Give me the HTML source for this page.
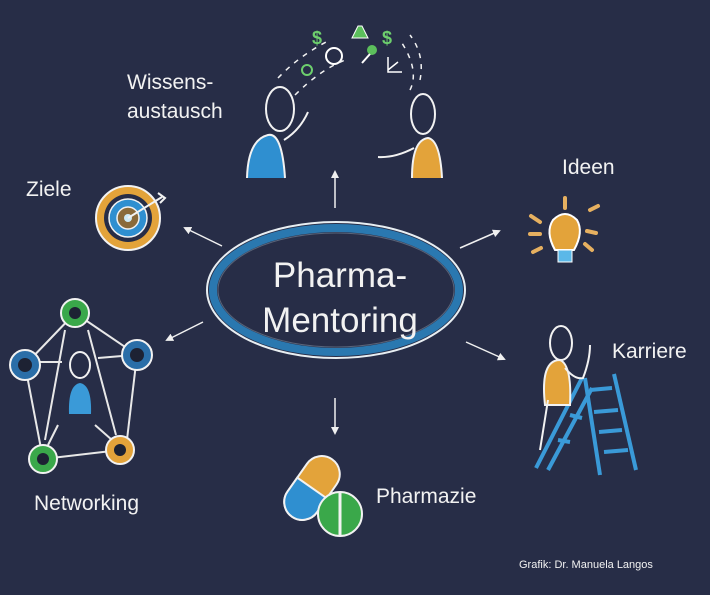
<!DOCTYPE html>
<html><head><meta charset="utf-8"><style>
html,body{margin:0;padding:0;background:#272d47;}
svg{display:block}
text{font-family:"Liberation Sans",sans-serif;fill:#f2f2f2}
</style></head><body>
<svg width="710" height="595" viewBox="0 0 710 595" xmlns="http://www.w3.org/2000/svg">
<rect width="710" height="595" fill="#272d47"/>
<defs>
<marker id="ah" markerWidth="8" markerHeight="8" refX="6" refY="4" orient="auto" markerUnits="userSpaceOnUse"><path d="M0,0 L8,4 L0,8 z" fill="#f0f0f0"/></marker>
</defs>
<!-- central ellipse -->
<ellipse cx="336" cy="290" rx="129" ry="68" fill="none" stroke="#e8eef2" stroke-width="2"/>
<ellipse cx="336" cy="290" rx="123" ry="62" fill="none" stroke="#2a78b0" stroke-width="8"/>
<ellipse cx="336" cy="290" rx="118" ry="57" fill="none" stroke="#cfe3ee" stroke-width="1" opacity="0.3"/>
<text x="340" y="287" font-size="35" text-anchor="middle">Pharma-</text>
<text x="340" y="332" font-size="35" text-anchor="middle">Mentoring</text>
<!-- arrows -->
<g stroke="#f0f0f0" stroke-width="1.5" marker-end="url(#ah)">
<line x1="335" y1="208" x2="335" y2="172"/>
<line x1="335" y1="398" x2="335" y2="433"/>
<line x1="222" y1="246" x2="185" y2="228"/>
<line x1="203" y1="322" x2="167" y2="340"/>
<line x1="460" y1="248" x2="499" y2="231"/>
<line x1="466" y1="342" x2="504" y2="359"/>
</g>
<!-- labels -->
<g font-size="21">
<text x="127" y="89">Wissens-</text>
<text x="127" y="118">austausch</text>
<text x="26" y="196">Ziele</text>
<text x="562" y="174">Ideen</text>
<text x="612" y="358">Karriere</text>
<text x="34" y="510">Networking</text>
<text x="376" y="503">Pharmazie</text>
</g>
<text x="519" y="568" font-size="11">Grafik: Dr. Manuela Langos</text>

<!-- Wissensaustausch people -->
<g fill="none" stroke="#f2f2f2" stroke-width="2">
<ellipse cx="280" cy="109" rx="14" ry="22"/>
<path d="M247,178 Q248,140 268,135 Q282,132 285,178" fill="#2f8fd0"/>
<path d="M284,140 Q300,130 308,112"/>
<ellipse cx="423" cy="114" rx="12" ry="20"/>
<path d="M412,178 Q412,140 428,138 Q440,140 442,178" fill="#e3a33a"/>
<path d="M414,148 Q395,158 378,157"/>
</g>
<g fill="#6dcf6d" font-size="18" font-weight="bold">
<text x="312" y="44" style="fill:#6dcf6d">$</text>
<text x="382" y="44" style="fill:#6dcf6d">$</text>
</g>
<path d="M352,38 L358,26 L362,26 L368,38 z" fill="#5cbf5c" stroke="#fff" stroke-width="1"/>
<circle cx="334" cy="56" r="8" fill="none" stroke="#fff" stroke-width="2"/>
<circle cx="307" cy="70" r="5" fill="none" stroke="#6dcf6d" stroke-width="2"/>
<circle cx="372" cy="50" r="5" fill="#5cbf5c"/>
<line x1="370" y1="54" x2="362" y2="63" stroke="#fff" stroke-width="2"/>
<path d="M388,57 L388,72 L402,72 M388,70 L398,62" fill="none" stroke="#fff" stroke-width="1.5"/>
<g stroke="#f2f2f2" stroke-width="1.5" stroke-dasharray="5 6" fill="none">
<path d="M278,78 Q300,55 330,40"/>
<path d="M295,95 Q320,70 345,60"/>
<path d="M410,90 Q420,70 400,40"/>
<path d="M420,80 Q425,55 410,35"/>
</g>

<!-- target -->
<circle cx="128" cy="218" r="32" fill="#e3a33a" stroke="#f2f2f2" stroke-width="2"/>
<circle cx="128" cy="218" r="24" fill="#272d47"/>
<circle cx="128" cy="218" r="19" fill="#2f8fd0" stroke="#f2f2f2" stroke-width="1.5"/>
<circle cx="128" cy="218" r="11" fill="#8a6a3a" stroke="#f2f2f2" stroke-width="1.5"/>
<circle cx="128" cy="218" r="4" fill="#cfeaf5"/>
<path d="M128,218 L162,197 M158,193 L165,198 L160,203" stroke="#f2f2f2" stroke-width="2" fill="none"/>

<!-- bulb -->
<path d="M555,250 Q545,232 553,220 Q565,208 577,220 Q584,232 574,250 z" fill="#e3a33a" stroke="#fff" stroke-width="2"/>
<rect x="558" y="250" width="14" height="12" fill="#5bb8e8" stroke="#fff" stroke-width="1"/>
<g stroke="#e6b060" stroke-width="4" stroke-linecap="round">
<line x1="565" y1="198" x2="565" y2="208"/>
<line x1="531" y1="216" x2="540" y2="222"/>
<line x1="530" y1="234" x2="540" y2="234"/>
<line x1="541" y1="248" x2="533" y2="252"/>
<line x1="590" y1="210" x2="598" y2="206"/>
<line x1="587" y1="231" x2="596" y2="233"/>
<line x1="585" y1="244" x2="592" y2="250"/>
</g>

<!-- ladder + person -->
<g stroke="#3a9ad8" stroke-width="4" fill="none">
<line x1="582" y1="378" x2="536" y2="468"/>
<line x1="592" y1="388" x2="548" y2="470"/>
<line x1="585" y1="378" x2="600" y2="475"/>
<line x1="614" y1="374" x2="636" y2="470"/>
<line x1="590" y1="390" x2="612" y2="388"/>
<line x1="594" y1="412" x2="618" y2="410"/>
<line x1="599" y1="432" x2="622" y2="430"/>
<line x1="604" y1="452" x2="628" y2="450"/>
<line x1="570" y1="415" x2="582" y2="418"/>
<line x1="558" y1="440" x2="570" y2="442"/>
</g>
<g fill="none" stroke="#f2f2f2" stroke-width="2">
<ellipse cx="561" cy="343" rx="11" ry="17"/>
<path d="M545,405 Q540,360 560,360 Q572,365 570,405 z" fill="#e3a33a"/>
<path d="M565,368 Q575,380 583,378 Q590,360 590,345"/>
<path d="M548,400 L540,450"/>
</g>

<!-- networking -->
<g stroke="#e8e8e8" stroke-width="2">
<line x1="75" y1="313" x2="25" y2="365"/><line x1="75" y1="313" x2="137" y2="355"/>
<line x1="25" y1="365" x2="43" y2="459"/><line x1="137" y1="355" x2="126" y2="448"/>
<line x1="43" y1="459" x2="120" y2="450"/><line x1="65" y1="330" x2="45" y2="440"/>
<line x1="88" y1="330" x2="116" y2="435"/><line x1="40" y1="362" x2="62" y2="362"/>
<line x1="98" y1="358" x2="122" y2="356"/><line x1="58" y1="425" x2="48" y2="445"/>
<line x1="95" y1="425" x2="112" y2="440"/>
</g>
<g stroke="#f2f2f2" stroke-width="2">
<circle cx="75" cy="313" r="14" fill="#3aa84a"/><circle cx="25" cy="365" r="15" fill="#2a6ea8"/>
<circle cx="137" cy="355" r="15" fill="#2a6ea8"/><circle cx="43" cy="459" r="14" fill="#3aa84a"/>
<circle cx="120" cy="450" r="14" fill="#e3a33a"/>
</g>
<g fill="#1d2233"><circle cx="75" cy="313" r="6"/><circle cx="25" cy="365" r="7"/><circle cx="137" cy="355" r="7"/><circle cx="43" cy="459" r="6"/><circle cx="120" cy="450" r="6"/></g>
<ellipse cx="80" cy="365" rx="10" ry="13" fill="none" stroke="#f2f2f2" stroke-width="2"/>
<path d="M69,414 Q68,385 80,383 Q92,385 91,414 z" fill="#3a9ad8"/>

<!-- pills -->
<g transform="rotate(-55 312 488)">
<rect x="277" y="470" width="70" height="36" rx="18" fill="#e3a33a" stroke="#f2f2f2" stroke-width="2"/>
<path d="M312,470 L295,470 A18,18 0 0 0 295,506 L312,506 z" fill="#2f8fd0" stroke="#f2f2f2" stroke-width="2"/>
</g>
<circle cx="340" cy="514" r="22" fill="#3aa84a" stroke="#f2f2f2" stroke-width="2"/>
<line x1="340" y1="492" x2="340" y2="536" stroke="#f2f2f2" stroke-width="3"/>
</svg>
</body></html>
